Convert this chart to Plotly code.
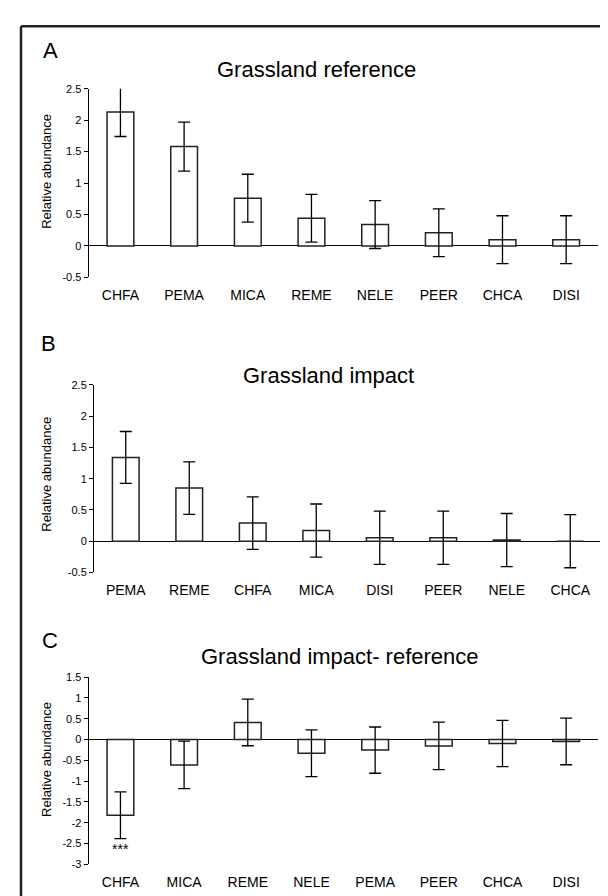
import plotly.graph_objects as go

# Panel A: Grassland reference
cats_a = ["CHFA", "PEMA", "MICA", "REME", "NELE", "PEER", "CHCA", "DISI"]
vals_a = [2.13, 1.58, 0.76, 0.44, 0.34, 0.21, 0.10, 0.10]
err_a = [0.39, 0.39, 0.38, 0.38, 0.38, 0.38, 0.38, 0.38]

# Panel B: Grassland impact
cats_b = ["PEMA", "REME", "CHFA", "MICA", "DISI", "PEER", "NELE", "CHCA"]
vals_b = [1.34, 0.85, 0.29, 0.17, 0.055, 0.055, 0.018, 0.0]
err_b = [0.415, 0.42, 0.42, 0.425, 0.425, 0.425, 0.425, 0.425]

# Panel C: Grassland impact - reference
cats_c = ["CHFA", "MICA", "REME", "NELE", "PEMA", "PEER", "CHCA", "DISI"]
vals_c = [-1.82, -0.61, 0.41, -0.33, -0.255, -0.155, -0.098, -0.047]
err_c = [0.56, 0.57, 0.56, 0.56, 0.555, 0.57, 0.555, 0.56]

ticks_ab = [-0.5, 0, 0.5, 1, 1.5, 2, 2.5]
ticktext_ab = ["-0.5", "0", "0.5", "1", "1.5", "2", "2.5"]
ticks_c = [-3, -2.5, -2, -1.5, -1, -0.5, 0, 0.5, 1, 1.5]
ticktext_c = ["-3", "-2.5", "-2", "-1.5", "-1", "-0.5", "0", "0.5", "1", "1.5"]

titles = ["Grassland reference", "Grassland impact", "Grassland impact- reference"]
letters = ["A", "B", "C"]
ytitle = "Relative abundance"
signif_label = "***"
signif_y = -2.64

W, H = 608, 896
FONT = "Arial, Liberation Sans, sans-serif"


def px_x(x):
    return x / W


def px_y(y):
    return 1 - y / H


fig = go.Figure()

panels = [
    (cats_a, vals_a, err_a, "x", "y"),
    (cats_b, vals_b, err_b, "x2", "y2"),
    (cats_c, vals_c, err_c, "x3", "y3"),
]
for cats, vals, errs, xa, ya in panels:
    fig.add_trace(go.Bar(
        x=cats, y=vals, xaxis=xa, yaxis=ya,
        marker=dict(color="white", line=dict(color="#222222", width=1.5)),
        error_y=dict(type="data", array=errs, visible=True,
                     color="black", thickness=1.3, width=6),
        showlegend=False,
    ))

# plot area pixel boxes (left, right, top, bottom)
boxes = [
    (80.6, 590, 75.7, 267),
    (86.0, 594, 376, 566),
    (80.6, 590, 672, 862),
]
yranges = [[-0.5, 2.5], [-0.5, 2.5], [-3, 1.5]]
yticks = [(ticks_ab, ticktext_ab), (ticks_ab, ticktext_ab), (ticks_c, ticktext_c)]

layout = dict(
    width=W, height=H,
    margin=dict(l=0, r=0, t=0, b=0),
    paper_bgcolor="white", plot_bgcolor="white",
    bargap=0.58,
    font=dict(family=FONT, color="black"),
)
for i, (l, r, t, b) in enumerate(boxes):
    sfx = "" if i == 0 else str(i + 1)
    layout["xaxis" + sfx] = dict(
        domain=[px_x(l), px_x(r)], anchor="y" + sfx, type="category",
        range=[-0.5, 7.5], showline=False, showgrid=False, zeroline=False,
        ticks="outside", ticklen=5, tickcolor="rgba(0,0,0,0)",
        tickfont=dict(size=14, family=FONT, color="black"),
    )
    layout["yaxis" + sfx] = dict(
        domain=[px_y(b), px_y(t)], anchor="x" + sfx, range=yranges[i],
        showline=True, linecolor="black", linewidth=1,
        ticks="outside", ticklen=4, tickcolor="black", tickwidth=1,
        tickvals=yticks[i][0], ticktext=yticks[i][1],
        tickfont=dict(size=11, family=FONT, color="black"),
        showgrid=False, zeroline=True, zerolinecolor="black", zerolinewidth=1.2,
    )
fig.update_layout(**layout)

# titles, panel letters, y titles
title_pos = [(308, 56), (320, 366), (332, 651)]
letter_pos = [(42, 37), (40, 334), (42, 635)]
ytitle_pos = [(39, 160), (39, 467), (39, 756)]
anns = []
for i in range(3):
    anns.append(dict(text=titles[i], x=px_x(title_pos[i][0]), y=px_y(title_pos[i][1]),
                     xref="paper", yref="paper", showarrow=False,
                     xanchor="center", yanchor="middle",
                     font=dict(size=22, family=FONT, color="black")))
    anns.append(dict(text=letters[i], x=px_x(letter_pos[i][0]), y=px_y(letter_pos[i][1]),
                     xref="paper", yref="paper", showarrow=False,
                     xanchor="center", yanchor="middle",
                     font=dict(size=22, family=FONT, color="black")))
    anns.append(dict(text=ytitle, x=px_x(ytitle_pos[i][0]), y=px_y(ytitle_pos[i][1]),
                     xref="paper", yref="paper", showarrow=False, textangle=-90,
                     xanchor="center", yanchor="middle",
                     font=dict(size=13, family=FONT, color="black")))
anns.append(dict(text=signif_label, x=cats_c[0], y=signif_y, xref="x3", yref="y3",
                 showarrow=False, xanchor="center", yanchor="middle",
                 font=dict(size=14, family=FONT, color="black")))
fig.update_layout(annotations=anns)

# outer frame (top and left edges)
fig.add_shape(type="line", xref="paper", yref="paper",
              x0=px_x(13), x1=1.02, y0=px_y(12.5), y1=px_y(12.5),
              line=dict(color="#222222", width=2.5))
fig.add_shape(type="line", xref="paper", yref="paper",
              x0=px_x(13), x1=px_x(13), y0=px_y(12.5), y1=-0.02,
              line=dict(color="#222222", width=2.5))

fig.write_html("out.html")
